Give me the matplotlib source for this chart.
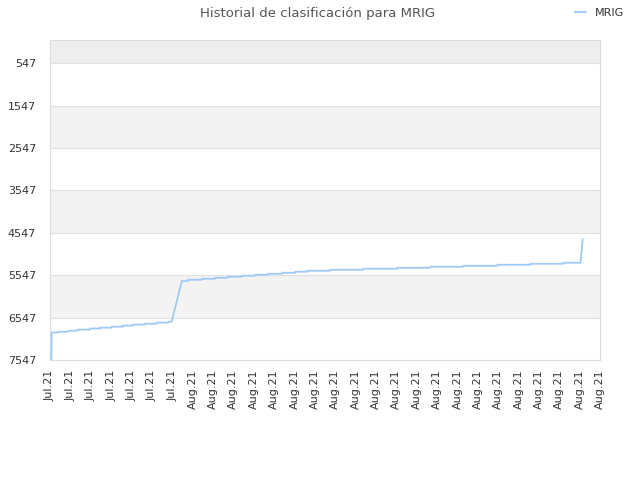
import matplotlib
matplotlib.use("Agg")
import matplotlib.pyplot as plt
import matplotlib.dates as mdates
import numpy as np
from datetime import datetime, timedelta

# ---- data ----
start_date = "2021-07-25"
end_date = "2021-08-21"
# change points: day offset from start, rank level starting there
change_days = [0.00, 0.08, 0.41, 0.90, 1.39, 1.96, 2.46, 3.03, 3.60, 4.09, 4.67, 5.24, 5.81,
               6.47, 6.78, 7.47, 8.11, 8.74, 9.43, 10.07, 10.71, 11.40, 12.04, 12.62,
               13.75, 15.38, 17.05, 18.67, 20.29, 21.96, 23.58, 25.20, 26.15]
change_ranks = [7547, 6900, 6880, 6855, 6830, 6805, 6785, 6760, 6735, 6710, 6690, 6665, 6645,
                5685, 5655, 5631, 5608, 5584, 5560, 5537, 5513, 5490, 5466, 5443,
                5419, 5395, 5372, 5348, 5325, 5301, 5278, 5254, 4702]
# days where the previous level ends (sloped transitions)
sloped_from = {13: 5.97, 32: 26.04}
y_ticks = [547, 1547, 2547, 3547, 4547, 5547, 6547, 7547]
series_name = "MRIG"
title = "Historial de clasificación para MRIG"

t0 = datetime.strptime(start_date, "%Y-%m-%d")
t1 = datetime.strptime(end_date, "%Y-%m-%d")

xs, ys = [], []
for i, (d, r) in enumerate(zip(change_days, change_ranks)):
    if i > 0:
        prev_end = sloped_from.get(i, d - 0.01)
        xs.append(t0 + timedelta(days=prev_end))
        ys.append(change_ranks[i - 1])
    xs.append(t0 + timedelta(days=d))
    ys.append(r)

fig = plt.figure(figsize=(6.4, 4.8), dpi=100)
ax = fig.add_axes([50 / 640, 1 - 360 / 480, 550 / 640, 320 / 480])

ymin, ymax = 0, 7547
ax.set_ylim(ymax, ymin)
ax.set_xlim(t0, t1)

# background bands
ax.axhspan(0, y_ticks[0], color="#eeeeee", zorder=0, lw=0)
for k in range(len(y_ticks) - 1):
    c = "#ffffff" if k % 2 == 0 else "#f3f3f3"
    ax.axhspan(y_ticks[k], y_ticks[k + 1], color=c, zorder=0, lw=0)
for yv in y_ticks:
    ax.axhline(yv, color="#e0e0e0", lw=0.8, zorder=1)

ax.plot(xs, ys, color="#9ecaf5", lw=1.3, zorder=3, label=series_name)

ax.set_yticks(y_ticks)
ax.set_yticklabels([str(v) for v in y_ticks])
ax.xaxis.set_major_locator(mdates.DayLocator())
ax.xaxis.set_major_formatter(mdates.DateFormatter("%b.%y"))
ax.tick_params(axis="x", rotation=90, labelsize=8, labelcolor="#333333", length=0, pad=7)
ax.tick_params(axis="y", labelsize=8, labelcolor="#333333", length=0, pad=10)
for lbl in ax.get_xticklabels():
    lbl.set_va("top")

for s in ax.spines.values():
    s.set_color("#dddddd")
    s.set_linewidth(0.8)

fig.text(318 / 640, 1 - 13 / 480, title, ha="center", va="center", fontsize=9.5, color="#555555")
leg = fig.legend(loc="center right", bbox_to_anchor=(634 / 640, 1 - 13 / 480), frameon=False,
                 fontsize=8, handlelength=1.0, handletextpad=0.8)
for t in leg.get_texts():
    t.set_color("#333333")

fig.savefig("out.png", dpi=100)
